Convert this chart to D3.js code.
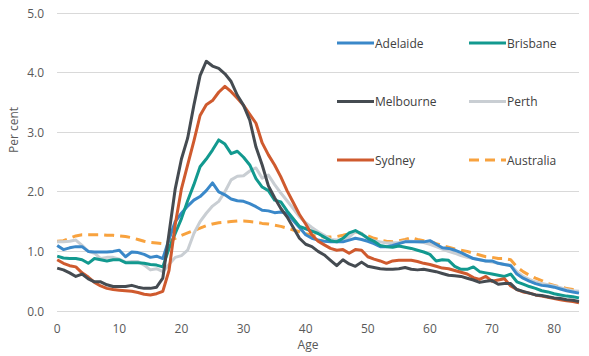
<!DOCTYPE html>
<html><head><meta charset="utf-8">
<script src="https://cdn.jsdelivr.net/npm/d3@7"></script>
<style>body{margin:0;background:#fff}svg{display:block}text{font-family:"Open Sans",sans-serif;fill:#404040}</style>
</head><body><svg id="c" width="589" height="356"></svg>
<script>
const ages = d3.range(0, 85);
const adelaide = [1.10,1.03,1.06,1.08,1.08,1.00,0.99,0.99,0.99,1.00,1.02,0.91,0.99,0.98,0.95,0.90,0.92,0.88,1.20,1.50,1.64,1.76,1.86,1.92,2.02,2.15,2.00,1.95,1.88,1.85,1.84,1.80,1.75,1.69,1.68,1.65,1.66,1.64,1.52,1.40,1.28,1.22,1.19,1.17,1.16,1.16,1.16,1.19,1.22,1.20,1.17,1.13,1.08,1.08,1.10,1.13,1.16,1.16,1.16,1.16,1.18,1.12,1.06,1.05,1.02,0.98,0.93,0.88,0.86,0.84,0.84,0.80,0.78,0.76,0.62,0.55,0.50,0.46,0.43,0.42,0.40,0.37,0.34,0.32,0.30];
const brisbane = [0.92,0.89,0.88,0.88,0.86,0.80,0.88,0.86,0.84,0.86,0.86,0.81,0.81,0.81,0.80,0.78,0.77,0.74,1.05,1.30,1.55,1.85,2.12,2.42,2.55,2.70,2.87,2.80,2.64,2.68,2.58,2.45,2.22,2.08,2.02,1.86,1.83,1.68,1.55,1.42,1.38,1.34,1.30,1.24,1.18,1.16,1.22,1.31,1.35,1.29,1.22,1.17,1.10,1.08,1.07,1.09,1.07,1.05,1.02,0.99,0.95,0.84,0.86,0.85,0.75,0.70,0.70,0.74,0.66,0.64,0.62,0.60,0.58,0.62,0.49,0.45,0.41,0.38,0.34,0.32,0.29,0.27,0.25,0.24,0.22];
const melbourne = [0.72,0.69,0.64,0.58,0.62,0.54,0.49,0.49,0.44,0.41,0.41,0.41,0.43,0.40,0.38,0.38,0.40,0.55,1.30,2.05,2.55,2.90,3.45,3.95,4.19,4.11,4.07,3.98,3.85,3.62,3.45,3.20,2.75,2.45,2.10,1.90,1.72,1.58,1.40,1.22,1.12,1.08,1.00,0.94,0.85,0.76,0.86,0.79,0.75,0.82,0.75,0.73,0.71,0.70,0.70,0.71,0.73,0.70,0.69,0.70,0.68,0.66,0.63,0.60,0.59,0.58,0.55,0.52,0.48,0.50,0.51,0.45,0.46,0.46,0.36,0.33,0.30,0.27,0.26,0.24,0.22,0.21,0.19,0.18,0.16];
const perth = [1.16,1.16,1.17,1.19,1.10,1.00,0.97,0.88,0.90,0.90,0.87,0.82,0.83,0.83,0.77,0.69,0.71,0.66,0.78,0.90,0.93,1.02,1.30,1.50,1.64,1.76,1.84,2.00,2.20,2.26,2.27,2.35,2.40,2.23,2.28,2.12,1.98,1.85,1.72,1.58,1.48,1.40,1.33,1.27,1.20,1.19,1.19,1.24,1.33,1.30,1.22,1.18,1.16,1.14,1.14,1.15,1.17,1.17,1.16,1.15,1.12,1.08,1.04,1.00,0.97,0.93,0.90,0.88,0.86,0.84,0.82,0.80,0.78,0.77,0.66,0.58,0.53,0.49,0.46,0.44,0.42,0.39,0.36,0.34,0.33];
const sydney = [0.86,0.80,0.76,0.74,0.64,0.57,0.48,0.42,0.38,0.36,0.35,0.34,0.33,0.31,0.28,0.27,0.29,0.33,0.68,1.45,2.05,2.45,2.85,3.28,3.46,3.53,3.67,3.77,3.68,3.57,3.45,3.30,3.15,2.82,2.62,2.45,2.25,2.02,1.82,1.62,1.46,1.28,1.17,1.11,1.05,1.02,1.03,0.97,1.03,1.02,0.91,0.87,0.84,0.80,0.84,0.85,0.85,0.85,0.83,0.80,0.78,0.75,0.72,0.71,0.68,0.65,0.62,0.56,0.53,0.58,0.50,0.52,0.54,0.42,0.36,0.32,0.30,0.27,0.25,0.23,0.21,0.19,0.17,0.16,0.14];
const australia = [1.17,1.18,1.22,1.26,1.28,1.28,1.28,1.28,1.27,1.27,1.26,1.25,1.23,1.20,1.17,1.15,1.14,1.13,1.17,1.22,1.27,1.31,1.35,1.39,1.43,1.46,1.48,1.49,1.50,1.51,1.51,1.50,1.49,1.47,1.46,1.44,1.42,1.39,1.36,1.33,1.30,1.27,1.25,1.24,1.24,1.25,1.27,1.30,1.33,1.30,1.26,1.22,1.19,1.17,1.16,1.18,1.20,1.23,1.20,1.18,1.17,1.13,1.10,1.07,1.04,1.02,1.00,0.97,0.94,0.91,0.90,0.88,0.88,0.86,0.74,0.66,0.60,0.55,0.51,0.46,0.43,0.40,0.38,0.36,0.34];
const xTicks = [0,10,20,30,40,50,60,70,80];
const yTicks = [0,1,2,3,4,5];

const series = [
  {name:"Adelaide", values:adelaide, color:"#3a88c9", dash:null},
  {name:"Brisbane", values:brisbane, color:"#12998f", dash:null},
  {name:"Melbourne", values:melbourne, color:"#454b51", dash:null},
  {name:"Perth", values:perth, color:"#c9ced3", dash:null},
  {name:"Sydney", values:sydney, color:"#cf5a2e", dash:null},
  {name:"Australia", values:australia, color:"#f8a23e", dash:"10,6"}
];
const drawOrder = ["Australia","Perth","Adelaide","Brisbane","Sydney","Melbourne"];

const svg = d3.select("#c");
const x = d3.scaleLinear().domain([0,84]).range([57.2,579]);
const y = d3.scaleLinear().domain([0,5]).range([311,13]);

svg.append("g").selectAll("line").data(yTicks).join("line")
  .attr("x1",57).attr("x2",579).attr("y1",d=>y(d)).attr("y2",d=>y(d))
  .attr("stroke","#d9d9d9").attr("stroke-width",1).attr("shape-rendering","crispEdges");

svg.append("g").selectAll("text").data(yTicks).join("text")
  .attr("x",44).attr("y",d=>y(d)+4.5).attr("text-anchor","end")
  .style("font-size","12px").style("fill","#595959").text(d=>d3.format(".1f")(d));

svg.append("g").selectAll("text").data(xTicks).join("text")
  .attr("x",d=>x(d)).attr("y",333).attr("text-anchor","middle")
  .style("font-size","12px").style("fill","#595959").text(d=>d);

svg.append("text").attr("x",308).attr("y",349).attr("text-anchor","middle")
  .style("font-size","12px").style("fill","#595959").text("Age");
svg.append("text").attr("transform","translate(18,130) rotate(-90)").attr("text-anchor","middle")
  .style("font-size","12px").style("fill","#595959").text("Per cent");

const line = d3.line().x((d,i)=>x(ages[i])).y(d=>y(d));
drawOrder.forEach(n=>{
  const s = series.find(t=>t.name===n);
  svg.append("path").datum(s.values).attr("d",line).attr("fill","none")
    .attr("stroke",s.color).attr("stroke-width",3).attr("stroke-linejoin","round")
    .attr("stroke-dasharray",s.dash);
});

const legX = [337,469], legY = [43,101.5,160];
series.forEach((s,i)=>{
  const lx = legX[i%2], ly = legY[Math.floor(i/2)];
  const g = svg.append("g");
  g.append("line").attr("x1",lx).attr("x2",lx+37).attr("y1",ly).attr("y2",ly)
    .attr("stroke",s.color).attr("stroke-width",3).attr("stroke-dasharray",s.dash);
  g.append("text").attr("x",lx+38).attr("y",ly+4.5).style("font-size","12px").style("fill","#404040").text(s.name);
});
</script></body></html>
